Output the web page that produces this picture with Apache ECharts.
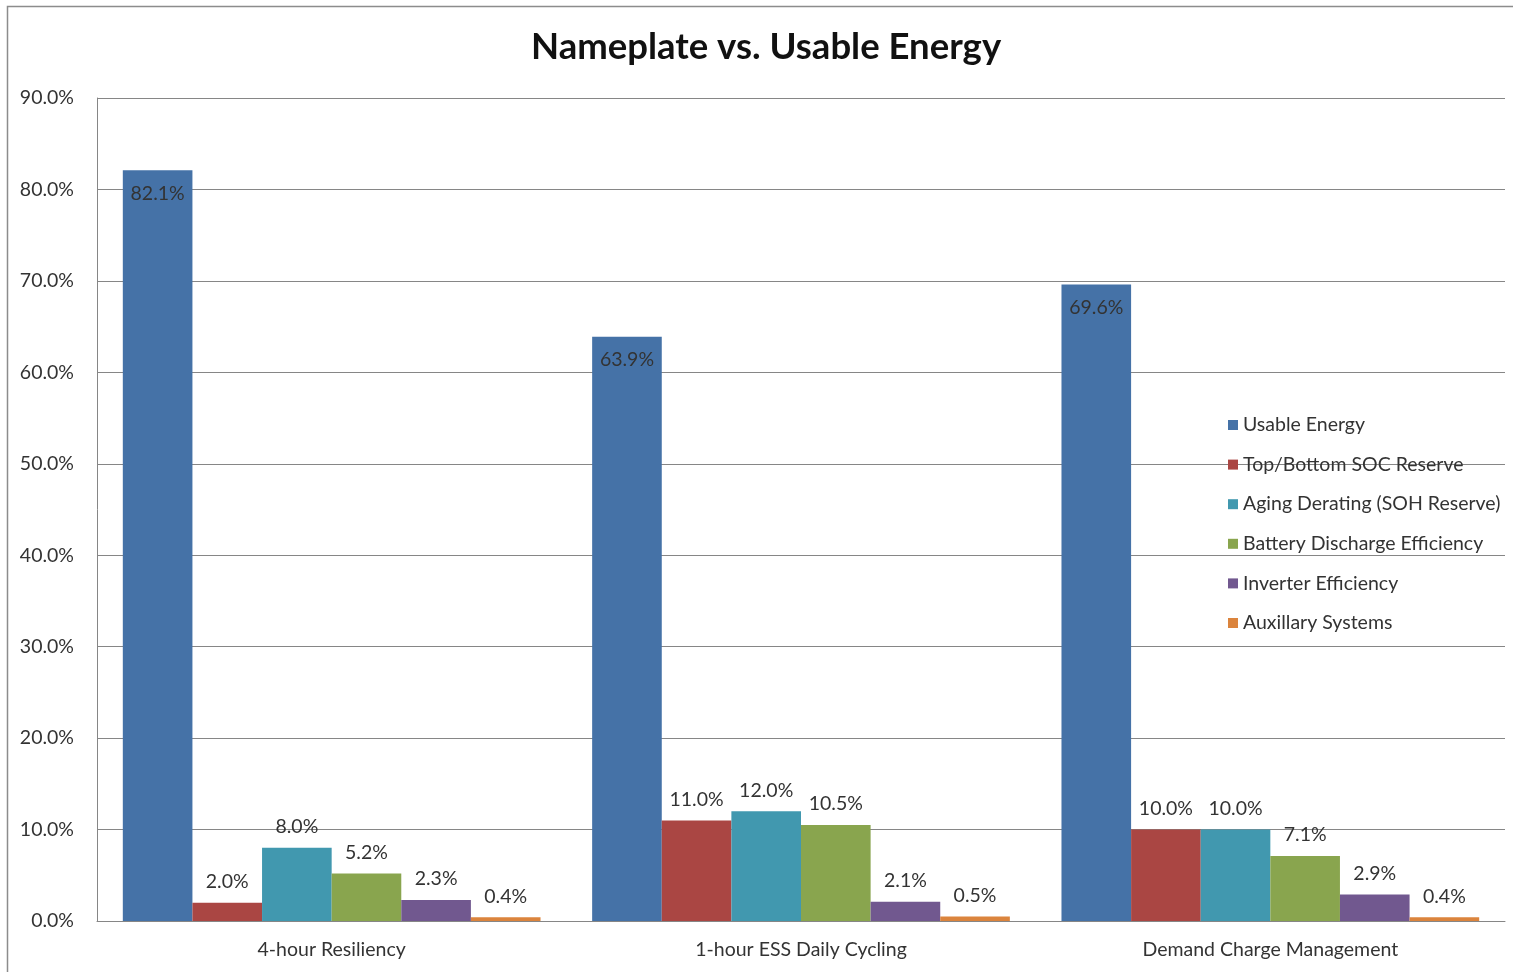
<!DOCTYPE html>
<html lang="en">
<head>
    <meta charset="UTF-8">
    <title>Nameplate vs. Usable Energy</title>
    <script src="https://cdn.jsdelivr.net/npm/echarts@6/dist/echarts.min.js"></script>
    <style>
        html, body { margin: 0; padding: 0; background: #fff; }
    </style>
</head>
<body>
<div id="chartBox" style="width: 1513px; height: 972px;"></div>
<script>
  // categories on the x axis
  var categories = ['4-hour Resiliency', '1-hour ESS Daily Cycling', 'Demand Charge Management'];

  // series values (percent)
  var usableEnergy = [82.1, 63.9, 69.6];
  var socReserve = [2.0, 11.0, 10.0];
  var agingDerating = [8.0, 12.0, 10.0];
  var dischargeEff = [5.2, 10.5, 7.1];
  var inverterEff = [2.3, 2.1, 2.9];
  var auxSystems = [0.4, 0.5, 0.4];

  var seriesNames = ['Usable Energy', 'Top/Bottom SOC Reserve', 'Aging Derating (SOH Reserve)',
    'Battery Discharge Efficiency', 'Inverter Efficiency', 'Auxillary Systems'];
  var seriesData = [usableEnergy, socReserve, agingDerating, dischargeEff, inverterEff, auxSystems];
  var colors = ['#4572A7', '#AA4643', '#4198AF', '#89A54E', '#71588F', '#DB843D'];

  // Lato is the closest installed face to Calibri
  var fontName = 'Lato';
  var textSize = 19.5;

  var series = seriesNames.map(function (name, i) {
    return {
      name: name,
      type: 'bar',
      data: seriesData[i],
      barGap: '0%',
      barCategoryGap: '11%',
      itemStyle: {color: colors[i]},
      label: {
        show: true,
        position: i === 0 ? 'insideTop' : 'top',
        distance: i === 0 ? 13 : 11,
        color: '#333',
        fontFamily: fontName,
        fontSize: textSize,
        formatter: function (p) {
          return p.value.toFixed(1) + '%';
        }
      }
    };
  });

  var chart = echarts.init(document.getElementById('chartBox'));
  chart.setOption({
    animation: false,
    color: colors,
    title: {
      text: 'Nameplate vs. Usable Energy',
      left: 526,
      top: 24,
      textStyle: {fontFamily: fontName, fontSize: 36.5, fontWeight: 'bold', color: '#111'}
    },
    graphic: [{
      type: 'rect',
      shape: {x: 7.5, y: 6.5, width: 1520, height: 980},
      style: {fill: 'none', stroke: '#8c8c8c', lineWidth: 1.5},
      silent: true
    }],
    legend: {
      orient: 'vertical',
      left: 1223,
      top: 410,
      itemWidth: 10,
      itemHeight: 10,
      itemGap: 19.6,
      icon: 'rect',
      textStyle: {fontFamily: fontName, fontSize: textSize, lineHeight: 20, color: '#333'},
      data: seriesNames
    },
    grid: {left: 97, right: 8, top: 98, bottom: 51},
    xAxis: {
      type: 'category',
      data: categories,
      axisTick: {show: false},
      axisLine: {lineStyle: {color: '#868686'}},
      axisLabel: {fontFamily: fontName, fontSize: textSize, color: '#333', margin: 19}
    },
    yAxis: {
      type: 'value',
      min: 0,
      max: 90,
      interval: 10,
      axisLine: {show: true, lineStyle: {color: '#868686'}},
      axisTick: {show: false},
      splitLine: {lineStyle: {color: '#868686'}},
      axisLabel: {
        fontFamily: fontName, fontSize: textSize, color: '#333', margin: 23,
        formatter: function (v) { return v.toFixed(1) + '%'; }
      }
    },
    series: series
  });
</script>
</body>
</html>
